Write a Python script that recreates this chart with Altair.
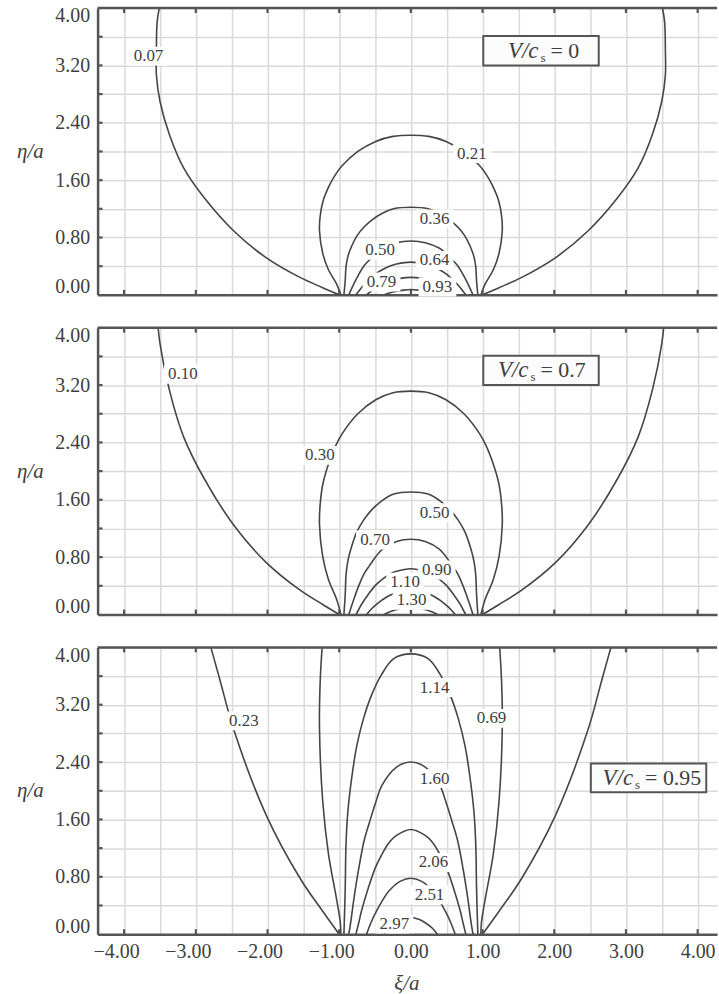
import altair as alt
import pandas as pd

# ---------------------------------------------------------------- style
FONT = "Liberation Serif"
INK = "#404040"
LINE = "#454545"
FRAME = "#555555"
GRID = "#dadada"

W, H = 622, 288
X_DOMAIN = [-4.37, 4.27]
Y_DOMAIN = [0.0, 4.0]

# grid / tick positions
X_GRID = [-4.0, -3.5, -3.0, -2.5, -2.0, -1.5, -1.0, -0.5, 0.0, 0.5, 1.0, 1.5, 2.0, 2.5, 3.0, 3.5, 4.0]
X_TICKS = [-4.0, -3.0, -2.0, -1.0, 0.0, 1.0, 2.0, 3.0, 4.0]
Y_GRID = [0.0, 0.4, 0.8, 1.2, 1.6, 2.0, 2.4, 2.8, 3.2, 3.6, 4.0]
Y_TICKS = [0.4, 0.8, 1.2, 1.6, 2.0, 2.4, 2.8, 3.2, 3.6]

# ---------------------------------------------------------------- V/cs = 0
P1_C007_L = [(-1.0, 0.0), (-1.23, 0.10), (-1.54, 0.24), (-2.02, 0.52), (-2.47, 0.89),
             (-2.88, 1.35), (-3.17, 1.77), (-3.37, 2.24), (-3.50, 2.70), (-3.55, 3.07), (-3.55, 3.40),
             (-3.54, 3.80), (-3.51, 4.0)]
P1_C007_R = [(1.0, 0.0), (1.23, 0.10), (1.54, 0.24), (2.02, 0.52), (2.47, 0.89),
             (2.88, 1.35), (3.17, 1.77), (3.37, 2.24), (3.50, 2.70), (3.55, 3.07), (3.55, 3.40),
             (3.54, 3.80), (3.51, 4.0)]
P1_C021 = [(-0.977, 0.0), (-1.035, 0.15), (-1.15, 0.35), (-1.23, 0.58), (-1.275, 0.90), (-1.265, 1.10),
           (-1.225, 1.31), (-1.13, 1.54), (-1.05, 1.68), (-0.96, 1.80), (-0.74, 2.00), (-0.49, 2.14),
           (-0.25, 2.21), (0.0, 2.226), (0.25, 2.21), (0.49, 2.14), (0.74, 2.00), (0.96, 1.80),
           (1.05, 1.68), (1.13, 1.54), (1.225, 1.31), (1.265, 1.10), (1.275, 0.90), (1.23, 0.58),
           (1.15, 0.35), (1.035, 0.15), (0.977, 0.0)]
P1_C036 = [(-0.934, 0.0), (-0.916, 0.20), (-0.905, 0.39), (-0.88, 0.53), (-0.83, 0.67), (-0.755, 0.82),
           (-0.66, 0.94), (-0.55, 1.04), (-0.41, 1.13), (-0.24, 1.20), (0.0, 1.221), (0.24, 1.20),
           (0.41, 1.13), (0.55, 1.04), (0.66, 0.94), (0.755, 0.82), (0.83, 0.67), (0.88, 0.53),
           (0.905, 0.39), (0.916, 0.20), (0.934, 0.0)]
P1_C050 = [(-0.866, 0.0), (-0.797, 0.15), (-0.725, 0.29), (-0.65, 0.41), (-0.575, 0.49), (-0.49, 0.575),
           (-0.40, 0.65), (-0.20, 0.728), (0.0, 0.75), (0.20, 0.728), (0.40, 0.65), (0.49, 0.575),
           (0.575, 0.49), (0.65, 0.41), (0.725, 0.29), (0.797, 0.15), (0.866, 0.0)]
P1_C064 = [(-0.766, 0.0), (-0.727, 0.05), (-0.69, 0.10), (-0.595, 0.20), (-0.495, 0.29), (-0.40, 0.35),
           (-0.30, 0.40), (-0.20, 0.43), (0.0, 0.456), (0.20, 0.43), (0.30, 0.40), (0.40, 0.35),
           (0.495, 0.29), (0.595, 0.20), (0.69, 0.10), (0.727, 0.05), (0.766, 0.0)]
P1_C079 = [(-0.618, 0.0), (-0.557, 0.05), (-0.48, 0.10), (-0.40, 0.145), (-0.30, 0.19), (-0.15, 0.23),
           (0.0, 0.244), (0.15, 0.23), (0.30, 0.19), (0.40, 0.145), (0.48, 0.10), (0.557, 0.05),
           (0.618, 0.0)]
P1_C093 = [(-0.371, 0.0), (-0.30, 0.026), (-0.20, 0.05), (-0.10, 0.066), (0.0, 0.074), (0.10, 0.066),
           (0.20, 0.05), (0.30, 0.026), (0.371, 0.0)]

P1_LABELS = [("0.07", -3.66, 3.33), ("0.21", 0.85, 1.97), ("0.36", 0.33, 1.06), ("0.50", -0.43, 0.62),
             ("0.64", 0.33, 0.48), ("0.79", -0.41, 0.18), ("0.93", 0.37, 0.11)]

# ---------------------------------------------------------------- V/cs = 0.7
P2_C010_L = [(-1.0, 0.0), (-1.23, 0.14), (-1.54, 0.336), (-2.02, 0.728), (-2.47, 1.246),
             (-2.88, 1.89), (-3.17, 2.478), (-3.37, 3.136), (-3.50, 3.78), (-3.55, 4.30)]
P2_C010_R = [(1.0, 0.0), (1.23, 0.14), (1.54, 0.336), (2.02, 0.728), (2.47, 1.246),
             (2.88, 1.89), (3.17, 2.478), (3.37, 3.136), (3.50, 3.78), (3.55, 4.30)]
P2_C030 = [(-0.977, 0.0), (-1.035, 0.21), (-1.15, 0.49), (-1.23, 0.812), (-1.275, 1.26), (-1.265, 1.54),
           (-1.225, 1.834), (-1.13, 2.156), (-1.05, 2.352), (-0.96, 2.52), (-0.74, 2.80), (-0.49, 2.996),
           (-0.25, 3.094), (0.0, 3.116), (0.25, 3.094), (0.49, 2.996), (0.74, 2.80), (0.96, 2.52),
           (1.05, 2.352), (1.13, 2.156), (1.225, 1.834), (1.265, 1.54), (1.275, 1.26), (1.23, 0.812),
           (1.15, 0.49), (1.035, 0.21), (0.977, 0.0)]
P2_C050 = [(-0.934, 0.0), (-0.916, 0.28), (-0.905, 0.546), (-0.88, 0.742), (-0.83, 0.938), (-0.755, 1.148),
           (-0.66, 1.316), (-0.55, 1.456), (-0.41, 1.582), (-0.24, 1.68), (0.0, 1.709), (0.24, 1.68),
           (0.41, 1.582), (0.55, 1.456), (0.66, 1.316), (0.755, 1.148), (0.83, 0.938), (0.88, 0.742),
           (0.905, 0.546), (0.916, 0.28), (0.934, 0.0)]
P2_C070 = [(-0.866, 0.0), (-0.797, 0.21), (-0.725, 0.406), (-0.65, 0.574), (-0.575, 0.686), (-0.49, 0.805),
           (-0.40, 0.91), (-0.20, 1.019), (0.0, 1.05), (0.20, 1.019), (0.40, 0.91), (0.49, 0.805),
           (0.575, 0.686), (0.65, 0.574), (0.725, 0.406), (0.797, 0.21), (0.866, 0.0)]
P2_C090 = [(-0.766, 0.0), (-0.727, 0.07), (-0.69, 0.14), (-0.595, 0.28), (-0.495, 0.406), (-0.40, 0.49),
           (-0.30, 0.56), (-0.20, 0.602), (0.0, 0.638), (0.20, 0.602), (0.30, 0.56), (0.40, 0.49),
           (0.495, 0.406), (0.595, 0.28), (0.69, 0.14), (0.727, 0.07), (0.766, 0.0)]
P2_C110 = [(-0.618, 0.0), (-0.557, 0.07), (-0.48, 0.14), (-0.40, 0.203), (-0.30, 0.266), (-0.15, 0.322),
           (0.0, 0.342), (0.15, 0.322), (0.30, 0.266), (0.40, 0.203), (0.48, 0.14), (0.557, 0.07),
           (0.618, 0.0)]
P2_C130 = [(-0.371, 0.0), (-0.30, 0.036), (-0.20, 0.07), (-0.10, 0.092), (0.0, 0.104), (0.10, 0.092),
           (0.20, 0.07), (0.30, 0.036), (0.371, 0.0)]

P2_LABELS = [("0.10", -3.18, 3.35), ("0.30", -1.27, 2.22), ("0.50", 0.33, 1.42), ("0.70", -0.50, 1.04),
             ("0.90", 0.36, 0.62), ("1.10", -0.08, 0.45), ("1.30", 0.01, 0.20)]

# ---------------------------------------------------------------- V/cs = 0.95
P3_C023_L = [(-1.0, 0.0), (-1.23, 0.32), (-1.54, 0.77), (-2.02, 1.665), (-2.47, 2.85),
             (-2.67, 3.57), (-2.88, 4.32)]
P3_C023_R = [(1.0, 0.0), (1.23, 0.32), (1.54, 0.77), (2.02, 1.665), (2.47, 2.85),
             (2.67, 3.57), (2.88, 4.32)]
P3_C069_L = [(-0.977, 0.0), (-0.984, 0.16), (-1.035, 0.48), (-1.15, 1.12), (-1.23, 1.857), (-1.275, 2.882),
             (-1.265, 3.523), (-1.225, 4.195)]
P3_C069_R = [(0.977, 0.0), (0.984, 0.16), (1.035, 0.48), (1.15, 1.12), (1.23, 1.857), (1.275, 2.882),
             (1.265, 3.523), (1.225, 4.195)]
P3_C114 = [(-0.934, 0.0), (-0.916, 0.64), (-0.905, 1.25), (-0.88, 1.70), (-0.83, 2.146), (-0.755, 2.626),
           (-0.66, 3.01), (-0.55, 3.33), (-0.41, 3.619), (-0.24, 3.843), (0.0, 3.91), (0.24, 3.843),
           (0.41, 3.619), (0.55, 3.33), (0.66, 3.01), (0.755, 2.626), (0.83, 2.146), (0.88, 1.70),
           (0.905, 1.25), (0.916, 0.64), (0.934, 0.0)]
P3_C160 = [(-0.866, 0.0), (-0.84, 0.16), (-0.797, 0.48), (-0.725, 0.929), (-0.65, 1.313), (-0.575, 1.569),
           (-0.49, 1.841), (-0.40, 2.082), (-0.20, 2.331), (0.0, 2.402), (0.20, 2.331), (0.40, 2.082),
           (0.49, 1.841), (0.575, 1.569), (0.65, 1.313), (0.725, 0.929), (0.797, 0.48), (0.84, 0.16),
           (0.866, 0.0)]
P3_C206 = [(-0.766, 0.0), (-0.727, 0.16), (-0.69, 0.32), (-0.595, 0.641), (-0.495, 0.929), (-0.40, 1.121),
           (-0.30, 1.281), (-0.20, 1.377), (0.0, 1.46), (0.20, 1.377), (0.30, 1.281), (0.40, 1.121),
           (0.495, 0.929), (0.595, 0.641), (0.69, 0.32), (0.727, 0.16), (0.766, 0.0)]
P3_C251 = [(-0.618, 0.0), (-0.557, 0.16), (-0.48, 0.32), (-0.40, 0.464), (-0.30, 0.608), (-0.15, 0.737),
           (0.0, 0.781), (0.15, 0.737), (0.30, 0.608), (0.40, 0.464), (0.48, 0.32), (0.557, 0.16),
           (0.618, 0.0)]
P3_C297 = [(-0.371, 0.0), (-0.30, 0.083), (-0.20, 0.16), (-0.10, 0.211), (0.0, 0.237), (0.10, 0.211),
           (0.20, 0.16), (0.30, 0.083), (0.371, 0.0)]

P3_LABELS = [("0.23", -2.33, 2.975), ("0.69", 1.125, 3.01), ("1.14", 0.33, 3.44), ("1.60", 0.33, 2.17),
             ("2.06", 0.315, 1.0), ("2.51", 0.26, 0.55), ("2.97", -0.23, 0.14)]

# ---------------------------------------------------------------- legend boxes (V/cs value)
P1_BOX = {"x": 1.01, "x2": 2.62, "y": 3.20, "y2": 3.61, "ax": 1.78, "ay": 3.30, "val": "= 0"}
P2_BOX = {"x": 1.01, "x2": 2.62, "y": 3.20, "y2": 3.61, "ax": 1.64, "ay": 3.315, "val": "= 0.7"}
P3_BOX = {"x": 2.51, "x2": 4.12, "y": 1.98, "y2": 2.38, "ax": 3.10, "ay": 2.086, "val": "= 0.95"}


def curve_frame(curves):
    rows = []
    for name, pts in curves:
        for i, (x, y) in enumerate(pts):
            rows.append({"curve": name, "i": i, "x": x, "y": y})
    return pd.DataFrame(rows)


def panel(curves, labels, box, show_x):
    xs = alt.Scale(domain=X_DOMAIN, nice=False, zero=False)
    ys = alt.Scale(domain=Y_DOMAIN, nice=False, zero=False)

    x_axis_args = dict(
        values=X_GRID, grid=True, gridColor=GRID, gridWidth=1.5,
        domainColor=FRAME, domainWidth=2.5, ticks=False, tickSize=0,
        labels=show_x, labelOverlap=False,
        labelExpr="abs(datum.value - round(datum.value)) < 0.01 ? format(datum.value, '.2f') : ''",
        labelFont=FONT, labelFontSize=20, labelColor=INK, labelPadding=7,
        labelOffset={"condition": {"test": "datum.value < 0", "value": -8}, "value": 0},
        title=None,
    )
    if show_x:
        x_axis_args.update(title="ξ/a", titleFont=FONT, titleFontStyle="italic", titleFontWeight="normal",
                           titleFontSize=21, titleColor=INK, titleX=310, titleY=50,
                           titleBaseline="middle", titleAlign="center")
    x_axis = alt.Axis(**x_axis_args)

    y_axis = alt.Axis(
        values=Y_GRID, grid=True, gridColor=GRID, gridWidth=1.5,
        domainColor=FRAME, domainWidth=2.5, ticks=False, tickSize=0, labelOverlap=False,
        labelExpr="abs(datum.value / 0.8 - round(datum.value / 0.8)) < 0.01 ? format(datum.value, '.2f') : ''",
        labelFlush=True, labelFlushOffset=2,
        labelFont=FONT, labelFontSize=20, labelColor=INK, labelPadding=8,
        title="η/a", titleAngle=0, titleX=-68, titleY=H / 2, titleAlign="center", titleBaseline="middle",
        titleFont=FONT, titleFontStyle="italic", titleFontWeight="normal", titleFontSize=21, titleColor=INK,
    )

    # every layer shares the same scale and axis definition so the axes merge
    def ex(field):
        return alt.X(field, type="quantitative", scale=xs, axis=x_axis)

    def ey(field):
        return alt.Y(field, type="quantitative", scale=ys, axis=y_axis)

    lines = alt.Chart(curve_frame(curves)).mark_line(
        color=LINE, strokeWidth=1.6, interpolate="catmull-rom", clip=True
    ).encode(x=ex("x"), y=ey("y"), detail="curve:N", order="i:Q")

    top_edge = alt.Chart(pd.DataFrame({"y": [Y_DOMAIN[1]]})).mark_rule(
        color=FRAME, strokeWidth=2.5
    ).encode(y=ey("y"))

    left_ticks = alt.Chart(pd.DataFrame({"y": Y_TICKS})).mark_rule(color=FRAME, strokeWidth=2.2).encode(
        y=ey("y"), x=alt.value(0), x2=alt.value(5))
    top_ticks = alt.Chart(pd.DataFrame({"x": X_TICKS})).mark_rule(color=FRAME, strokeWidth=2.2).encode(
        x=ex("x"), y=alt.value(0), y2=alt.value(5))
    bottom_ticks = alt.Chart(pd.DataFrame({"x": X_TICKS})).mark_rule(color=FRAME, strokeWidth=2.2).encode(
        x=ex("x"), y=alt.value(H), y2=alt.value(H - 5))

    lab = pd.DataFrame(labels, columns=["text", "x", "y"])
    lab_bg = alt.Chart(lab).mark_point(
        shape="M-1,-0.5L1,-0.5L1,0.5L-1,0.5Z", size=38 * 38, filled=True, fill="white",
        opacity=1, strokeWidth=0
    ).encode(x=ex("x"), y=ey("y"))
    lab_txt = alt.Chart(lab).mark_text(font=FONT, fontSize=17, color=INK, baseline="middle").encode(
        x=ex("x"), y=ey("y"), text="text:N")

    bx = pd.DataFrame([box])
    frame_box = alt.Chart(bx).mark_rect(fill="#fcfcfc", stroke=FRAME, strokeWidth=2).encode(
        x=ex("x"), x2="x2:Q", y=ey("y"), y2="y2:Q")
    t_v = alt.Chart(bx).transform_calculate(t="'V/c'").mark_text(
        font=FONT, fontStyle="italic", fontSize=23, color=INK, align="right", baseline="alphabetic"
    ).encode(x=ex("ax"), y=ey("ay"), text="t:N")
    t_s = alt.Chart(bx).transform_calculate(t="'s'").mark_text(
        font=FONT, fontSize=13, color=INK, align="left", baseline="alphabetic", dx=2, dy=4
    ).encode(x=ex("ax"), y=ey("ay"), text="t:N")
    t_eq = alt.Chart(bx).mark_text(
        font=FONT, fontSize=22, color=INK, align="left", baseline="alphabetic", dx=12
    ).encode(x=ex("ax"), y=ey("ay"), text="val:N")

    return alt.layer(
        lines, top_edge, left_ticks, top_ticks, bottom_ticks,
        lab_bg, lab_txt, frame_box, t_v, t_s, t_eq
    ).properties(width=W, height=H)


p1 = panel([("a", P1_C007_L), ("b", P1_C007_R), ("c", P1_C021), ("d", P1_C036), ("e", P1_C050),
            ("f", P1_C064), ("g", P1_C079), ("h", P1_C093)], P1_LABELS, P1_BOX, False)
p2 = panel([("a", P2_C010_L), ("b", P2_C010_R), ("c", P2_C030), ("d", P2_C050), ("e", P2_C070),
            ("f", P2_C090), ("g", P2_C110), ("h", P2_C130)], P2_LABELS, P2_BOX, False)
p3 = panel([("a", P3_C023_L), ("b", P3_C023_R), ("c", P3_C069_L), ("d", P3_C069_R), ("e", P3_C114),
            ("f", P3_C160), ("g", P3_C206), ("h", P3_C251), ("i", P3_C297)], P3_LABELS, P3_BOX, True)

chart = alt.vconcat(p1, p2, p3, spacing=29).properties(
    padding={"left": 16, "top": 4, "right": 0, "bottom": 2},
    background="white",
).configure_view(strokeWidth=0)

chart.save("out.html", embed_options={"renderer": "svg", "actions": False})
